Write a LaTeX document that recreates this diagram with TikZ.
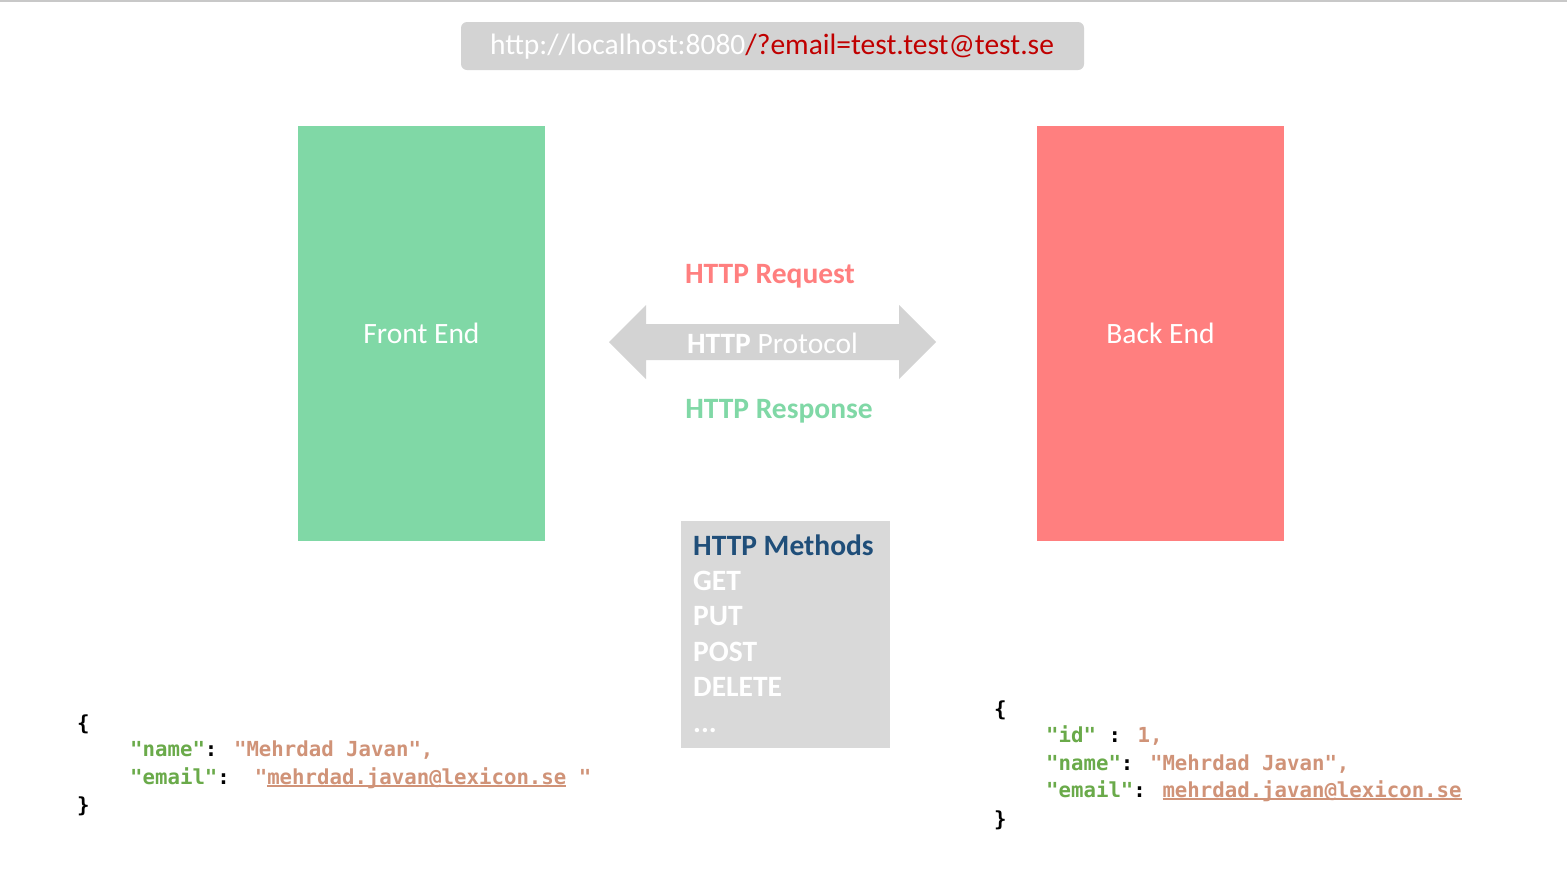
\documentclass[tikz,border=0pt]{standalone}
\usepackage{fontspec}
\setmainfont{Carlito}
\newfontfamily\codefont{DejaVu Sans Mono}
\definecolor{fegreen}{HTML}{80D8A6}
\definecolor{bered}{HTML}{FF7F7F}
\definecolor{boxgray}{HTML}{D3D3D3}
\definecolor{methgray}{HTML}{D9D9D9}
\definecolor{urlred}{HTML}{C00000}
\definecolor{navy}{HTML}{1F4E79}
\definecolor{keygreen}{HTML}{6AAA4A}
\definecolor{strsalmon}{HTML}{D09378}
\definecolor{topline}{HTML}{C8C8C8}
\tikzset{
  block/.style={inner sep=0pt, font=\fontsize{29.5}{34}\selectfont, text=white},
  codeline/.style={anchor=base west, inner sep=0pt, font=\codefont\bfseries\fontsize{20.7}{24}\selectfont},
  methline/.style={anchor=base west, inner sep=0pt, font=\bfseries\fontsize{29.5}{34}\selectfont, text=white},
  httplabel/.style={inner sep=0pt, font=\bfseries\fontsize{29.5}{34}\selectfont}
}
\newcommand{\ky}[1]{\textcolor{keygreen}{#1}}
\newcommand{\sv}[1]{\textcolor{strsalmon}{#1}}
\newsavebox\ulbox
\newcommand{\uln}[1]{\sbox\ulbox{#1}\rlap{\rule[-3pt]{\wd\ulbox}{1.8pt}}\usebox\ulbox}
\begin{document}
\begin{tikzpicture}[x=1pt,y=-1pt]
\useasboundingbox (0,0) rectangle (1567,884);
\fill[white] (0,0) rectangle (1567,884);
\draw[topline, line width=1.5pt] (0,0.75) -- (1567,0.75);
% URL bar
\fill[boxgray, rounded corners=6pt] (461,22) rectangle (1084,70);
\node[inner sep=0pt, font=\fontsize{29.5}{34}\selectfont] (url) at (772,47)
  {\textcolor{white}{http://localhost:8080}\textcolor{urlred}{/?email=test.test@test.se}};
% Front / Back end
\fill[fegreen] (298,126) rectangle (545,541);
\node[block] (fe) at (421.5,333.5) {Front End};
\fill[bered] (1037,126) rectangle (1284,541);
\node[block] (be) at (1160.5,333.5) {Back End};
% double arrow
\fill[boxgray] (609,342) -- (646,305) -- (646,324) -- (899,324) -- (899,305) -- (936,342)
  -- (899,379) -- (899,360) -- (646,360) -- (646,379) -- cycle;
\node[inner sep=0pt, font=\fontsize{29.5}{34}\selectfont, text=white] (proto) at (772.5,343) {\textbf{HTTP} Protocol};
\node[httplabel, text=bered] (req) at (770,276) {HTTP Request};
\node[httplabel, text=fegreen] (resp) at (779,411) {HTTP Response};
% methods
\fill[methgray] (681,521) rectangle (890,748);
\node[methline, text=navy] (mh) at (693,555) {HTTP Methods};
\node[methline] (m1) at (693,590) {GET};
\node[methline] (m2) at (693,625.5) {PUT};
\node[methline] (m3) at (693,661) {POST};
\node[methline] (m4) at (693,696.5) {DELETE};
\node[methline] (m5) at (693,732) {...};
% left JSON
\node[codeline] (l1) at (77,730) {\{};
\node[codeline] (l2) at (130,756) {\ky{"name"}: \sv{"Mehrdad Javan",}};
\node[codeline] (l3) at (130,784) {\ky{"email"}:\ \ \sv{"\uln{mehrdad.javan@lexicon.se} "}};
\node[codeline] (l4) at (77,812) {\}};
% right JSON
\node[codeline] (r1) at (994,716) {\{};
\node[codeline] (r2) at (1046,742) {\ky{"id"} : \sv{1,}};
\node[codeline] (r3) at (1046,770) {\ky{"name"}: \sv{"Mehrdad Javan",}};
\node[codeline] (r4) at (1046,797) {\ky{"email"}: \sv{\uln{mehrdad.javan@lexicon.se}}};
\node[codeline] (r5) at (994,826) {\}};
\end{tikzpicture}
\end{document}
